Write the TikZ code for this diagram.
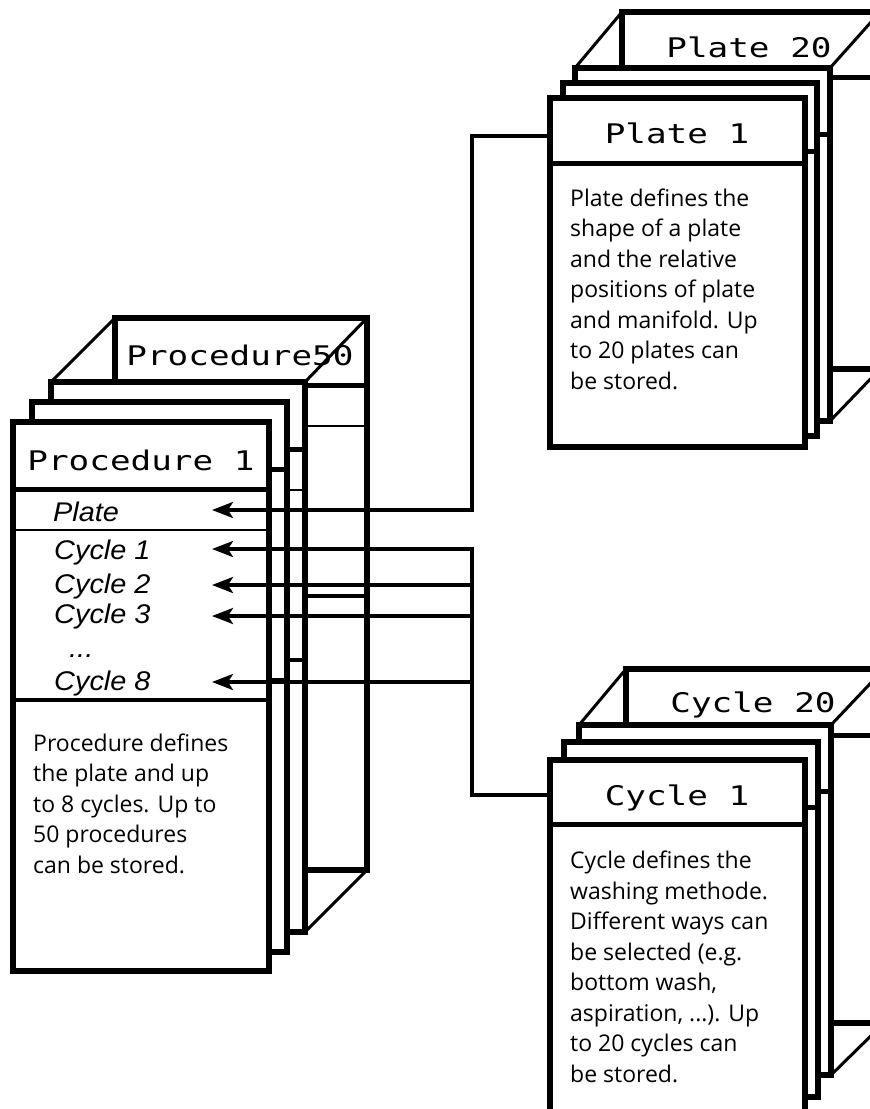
\documentclass[tikz,border=0pt]{standalone}
\usepackage{fontspec}
\usetikzlibrary{arrows.meta}
\newfontfamily\titlefont[FakeStretch=1.27]{DejaVu Sans Mono}
\newfontfamily\bodyfont{Open Sans}
\newfontfamily\labelfont[FakeStretch=1.07]{Liberation Sans}
\tikzset{
  border/.style={line width=5.5pt},
  thickdiv/.style={line width=5pt},
  thindiv/.style={line width=2pt},
  middiv/.style={line width=4pt},
  slant/.style={line width=3pt},
  conn/.style={line width=3.5pt},
  arr/.style={-{Stealth[length=21pt,width=16pt,inset=5pt]}},
  ttl/.style={font=\titlefont\fontsize{27}{30}\selectfont, anchor=base, inner sep=0pt},
  lbl/.style={font=\labelfont\itshape\fontsize{27}{30}\selectfont, anchor=base west, inner sep=0pt},
  body/.style={font=\bodyfont\fontsize{23}{30.5}\selectfont, anchor=base west, align=left, inner sep=0pt},
}
% procedure card: x1,y1,x2,y2
\newcommand\proccard[4]{%
  \fill[white] (#1,#2) rectangle (#3,#4);
  \draw[thickdiv] (#1,#2+67) -- (#3,#2+67);
  \draw[thindiv] (#1,#2+108) -- (#3,#2+108);
  \draw[middiv] (#1,#2+278) -- (#3,#2+278);
  \draw[border] (#1,#2) rectangle (#3,#4);
}
% small card: x1,y1,x2,y2,divider offset
\newcommand\smallcard[5]{%
  \fill[white] (#1,#2) rectangle (#3,#4);
  \draw[thickdiv] (#1,#2+#5) -- (#3,#2+#5);
  \draw[border] (#1,#2) rectangle (#3,#4);
}
\begin{document}
\begin{tikzpicture}[x=1pt,y=-1pt]
\clip (0,0) rectangle (870,1109);
\fill[white] (0,0) rectangle (870,1109);

% ---------- Procedure stack ----------
\proccard{115}{318}{367}{870}
\node[ttl] (proc50) at (240,365) {Procedure50};
\draw[slant] (51,382) -- (115,318);
\draw[slant] (305,382) -- (367,318);
\draw[slant] (305,932) -- (367,870);
\proccard{51}{382}{305}{932}
\proccard{32}{402}{287}{952}
\proccard{13}{422}{269}{971}
\node[ttl] (proc1) at (141,470) {Procedure 1};
\node[lbl] (lplate) at (53,521) {Plate};
\node[lbl] (lc1) at (54,559) {Cycle 1};
\node[lbl] (lc2) at (54,593) {Cycle 2};
\node[lbl] (lc3) at (54,623) {Cycle 3};
\node[lbl] (ldots) at (69,657) {...};
\node[lbl] (lc8) at (54,690) {Cycle 8};
\node[body] (procbody) at (33,873) {Procedure defines\\the plate and up\\to 8 cycles. Up to\\50 procedures\\can be stored.};

% ---------- Plate stack ----------
\smallcard{622}{12}{880}{369}{65}
\node[ttl] (plate20) at (749,57) {Plate 20};
\draw[slant] (575,68) -- (622,12);
\draw[slant] (830,68) -- (880,12);
\draw[slant] (830,421) -- (880,369);
\smallcard{575}{68}{830}{421}{66}
\smallcard{563}{83}{817}{436}{68}
\smallcard{550}{98}{805}{447}{65}
\node[ttl] (plate1) at (677,143) {Plate 1};
\node[body] (platebody) at (570,389) {Plate defines the\\shape of a plate\\and the relative\\positions of plate\\and manifold. Up\\to 20 plates can\\be stored.};

% ---------- Cycle stack ----------
\smallcard{626}{669}{884}{1023}{66}
\node[ttl] (cycle20) at (753,712) {Cycle 20};
\draw[slant] (579,725) -- (626,669);
\draw[slant] (831,725) -- (884,669);
\draw[slant] (831,1075) -- (884,1023);
\smallcard{579}{725}{831}{1075}{66}
\smallcard{564}{742}{818}{1097}{65}
\smallcard{550}{760}{805}{1115}{64}
\node[ttl] (cycle1) at (677,805) {Cycle 1};
\node[body] (cyclebody) at (570,1082) {Cycle defines the\\washing methode.\\Different ways can\\be selected (e.g.\\bottom wash,\\aspiration, ...). Up\\to 20 cycles can\\be stored.};

% ---------- Connectors ----------
\coordinate (bus) at (472,0);
\coordinate (plateJoin) at (550,136);
\coordinate (cycleJoin) at (550,795);
\coordinate (tPlate) at (212,510);
\coordinate (tC1) at (212,549);
\coordinate (tC2) at (212,585);
\coordinate (tC3) at (212,616);
\coordinate (tC8) at (212,682);
\draw[conn,arr] (plateJoin) -- (plateJoin -| bus) |- (tPlate);
\draw[conn,arr] (cycleJoin) -- (cycleJoin -| bus) |- (tC1);
\draw[conn,arr] (tC2 -| bus) -- (tC2);
\draw[conn,arr] (tC3 -| bus) -- (tC3);
\draw[conn,arr] (tC8 -| bus) -- (tC8);
\end{tikzpicture}
\end{document}
